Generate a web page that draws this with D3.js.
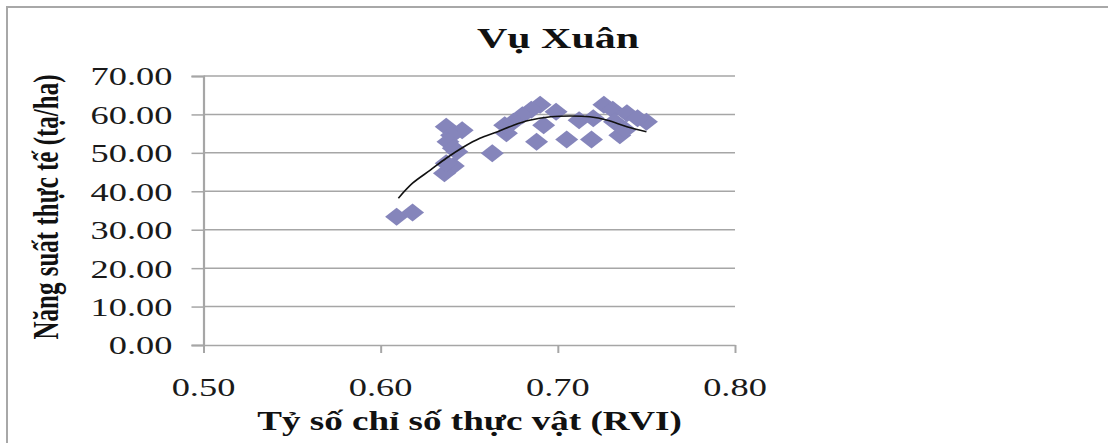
<!DOCTYPE html>
<html lang="vi">
<head>
<meta charset="UTF-8">
<title>Vụ Xuân</title>
<script src="https://d3js.org/d3.v7.min.js"></script>
<style>
  body { margin: 0; background: #fff; }
  svg { display: block; }
  .tick-label { font-family: "Liberation Serif", "Times New Roman", serif; font-size: 26px; fill: #1a1a1a; }
  .title { font-family: "Liberation Serif", "Times New Roman", serif; font-weight: bold; fill: #111; }
</style>
</head>
<body>
<div id="chart"></div>
<script>
const rvi = [0.609, 0.618, 0.637, 0.646, 0.640, 0.638, 0.641, 0.641, 0.636, 0.663,
             0.671, 0.670, 0.688, 0.705, 0.719, 0.735, 0.690, 0.685, 0.680, 0.692,
             0.699, 0.675, 0.712, 0.720, 0.726, 0.731, 0.739, 0.732, 0.738, 0.750,
             0.745, 0.643, 0.637];
const yieldVals = [33.4, 34.5, 56.8, 55.9, 54.6, 52.9, 51.2, 46.6, 44.7, 49.9,
                   55.1, 57.2, 52.9, 53.5, 53.5, 54.6, 62.5, 61.2, 59.8, 57.2,
                   60.7, 58.1, 58.5, 59.0, 62.5, 61.2, 60.3, 58.1, 56.0, 58.1,
                   59.0, 50.3, 47.3];

// trend line (polynomial trendline as drawn)
const trendRvi = [0.610, 0.618, 0.628, 0.637, 0.647, 0.656, 0.666, 0.675, 0.684, 0.696,
                  0.707, 0.718, 0.728, 0.739, 0.750];
const trendYield = [38.2, 42.1, 45.5, 48.6, 51.6, 53.8, 55.5, 57.2, 58.5, 59.4,
                    59.6, 59.4, 58.5, 56.8, 55.5];

const xTicks = [0.50, 0.60, 0.70, 0.80];
const yTicks = [0, 10, 20, 30, 40, 50, 60, 70];

const chartTitle = "Vụ Xuân";
const xTitle = "Tỷ số chỉ số thực vật (RVI)";
const yTitle = "Năng suất thực tế (tạ/ha)";

const W = 1108, H = 443;
const SX = 1.4; // the picture is stretched sideways
const plot = {left: 203.5, right: 735, top: 76, bottom: 345};

const svg = d3.select("#chart").append("svg")
    .attr("width", W).attr("height", H);

// outer chart frame (only top and left edges show)
svg.append("path")
    .attr("d", `M7,${H}V7H${W}`)
    .attr("fill", "none").attr("stroke", "#a8a8a8").attr("stroke-width", 2);

const x = d3.scaleLinear().domain([0.5, 0.8]).range([plot.left, plot.right]);
const y = d3.scaleLinear().domain([0, 70]).range([plot.bottom, plot.top]);

// gridlines
svg.append("g").selectAll("line").data(yTicks.filter(d => d > 0)).join("line")
    .attr("x1", plot.left).attr("x2", plot.right)
    .attr("y1", d => y(d)).attr("y2", d => y(d))
    .attr("stroke", "#a6a6a6").attr("stroke-width", 1.5);

// y axis
const yAxis = svg.append("g").attr("transform", `translate(${plot.left},0)`)
    .call(d3.axisLeft(y).tickValues(yTicks).tickSize(12).tickFormat(""));
yAxis.select(".domain").attr("stroke", "#a6a6a6").attr("stroke-width", 2.2);
yAxis.selectAll(".tick line").attr("stroke", "#a6a6a6").attr("stroke-width", 1.5);

// x axis
const xAxis = svg.append("g").attr("transform", `translate(0,${plot.bottom})`)
    .call(d3.axisBottom(x).tickValues(xTicks).tickSize(8).tickSizeOuter(0).tickFormat(""));
xAxis.select(".domain").attr("stroke", "#a6a6a6").attr("stroke-width", 1.5);
xAxis.selectAll(".tick line").attr("stroke", "#a6a6a6").attr("stroke-width", 2);

// tick labels, stretched like the source
svg.append("g").selectAll("text").data(yTicks).join("text")
    .attr("class", "tick-label")
    .attr("transform", d => `translate(${plot.left - 31},${y(d)}) scale(${SX},1)`)
    .attr("text-anchor", "end").attr("dy", "0.36em")
    .text(d => d3.format(".2f")(d));

svg.append("g").selectAll("text").data(xTicks).join("text")
    .attr("class", "tick-label")
    .attr("transform", d => `translate(${x(d)},${plot.bottom + 51}) scale(${SX},1)`)
    .attr("text-anchor", "middle")
    .text(d => d3.format(".2f")(d));

// markers
const diamond = "M0,-9L11.5,0L0,9L-11.5,0Z";
svg.append("g").selectAll("path").data(rvi).join("path")
    .attr("d", diamond)
    .attr("transform", (d, i) => `translate(${x(d)},${y(yieldVals[i])})`)
    .attr("fill", "#8585bb");

// trend line
const line = d3.line()
    .x(d => x(d[0])).y(d => y(d[1]))
    .curve(d3.curveCatmullRom);
svg.append("path")
    .datum(trendRvi.map((d, i) => [d, trendYield[i]]))
    .attr("d", line)
    .attr("fill", "none").attr("stroke", "#111").attr("stroke-width", 1.6);

// titles
svg.append("text").attr("class", "title")
    .attr("transform", `translate(558,48) scale(${SX},1)`)
    .attr("text-anchor", "middle").style("font-size", "30px")
    .text(chartTitle);

svg.append("text").attr("class", "title")
    .attr("transform", `translate(469.5,430) scale(${SX},1)`)
    .attr("text-anchor", "middle").style("font-size", "26.5px")
    .text(xTitle);

svg.append("text").attr("class", "title")
    .attr("transform", `translate(58,207) scale(${SX},1) rotate(-90)`)
    .attr("text-anchor", "middle").style("font-size", "25px")
    .text(yTitle);
</script>
</body>
</html>
